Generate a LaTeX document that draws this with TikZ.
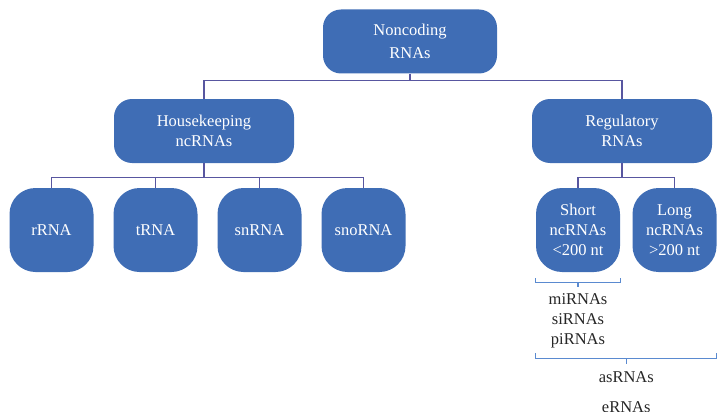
\documentclass[tikz,border=0pt]{standalone}
\usepackage{fontspec}
\setmainfont{Liberation Serif}
\usetikzlibrary{positioning,calc}
\definecolor{boxblue}{RGB}{63,109,181}
\definecolor{linepurple}{RGB}{88,86,160}
\definecolor{braceblue}{RGB}{90,138,208}

\begin{document}
\begin{tikzpicture}[x=1pt,y=-1pt,% one unit = one pixel of the reference, y pointing down
        rna/.style={fill=boxblue,text=white,align=center,inner sep=0pt,
                font=\fontsize{16.5}{20}\selectfont},%
        wide/.style={rna,minimum width=180pt,minimum height=64pt,rounded corners=18pt},%
        leaf/.style={rna,minimum width=84pt,minimum height=84pt,rounded corners=26pt},%
        link/.style={draw=linepurple,line width=1.2pt},%
        bracket/.style={draw=braceblue,line width=1.2pt},%
        listtext/.style={align=center,text=black!85,font=\fontsize{16.5}{20}\selectfont}]
\useasboundingbox (0,0) rectangle (728,412);

\node[wide,minimum width=174pt,font=\fontsize{16.5}{23}\selectfont] (ncrna) at (410,41.5) {Noncoding\\RNAs};
\node[wide] (house) at (204,131) {Housekeeping\\ncRNAs};
\node[wide] (reg) at (622,131) {Regulatory\\RNAs};

\draw[link] (ncrna.south) -- ++(0,7) coordinate (topsplit);
\draw[link] (topsplit) -| (house.north);
\draw[link] (topsplit) -| (reg.north);

\foreach[count=\i] \name in {rRNA,tRNA,snRNA,snoRNA}{ %\i is the counter \name the label
\node[leaf] (leaf-\i) at ({51.5+104*(\i-1)},230) {\name};
}
\draw[link] (house.south) -- ++(0,14) coordinate (housesplit);
\foreach \i in {1,...,4}{
\draw[link] (housesplit) -| (leaf-\i.north);
}

\node[leaf] (short) at (578,230) {Short\\ncRNAs\\<200 nt};
\node[leaf] (long) at (674.5,230) {Long\\ncRNAs\\>200 nt};
\draw[link] (reg.south) -- ++(0,14) coordinate (regsplit);
\draw[link] (regsplit) -| (short.north);
\draw[link] (regsplit) -| (long.north);

% bracket under the short ones only
\draw[bracket] ([yshift=-6pt]short.south west) -- ([yshift=-10pt]short.south west)
        -- ([yshift=-10pt]short.south east) -- ([yshift=-6pt]short.south east);
\draw[bracket] ([yshift=-10pt]short.south) -- ([yshift=-15pt]short.south) coordinate (shorttip);
\node[listtext,below=3pt of shorttip] (shortlist) {miRNAs\\siRNAs\\piRNAs};

% bracket under both
\draw[bracket] ([yshift=-81pt]short.south west) -- ([yshift=-86pt]short.south west)
        -- ([yshift=-86pt]long.south east) -- ([yshift=-81pt]long.south east);
\coordinate (bothmid) at ($([yshift=-86pt]short.south west)!0.5!([yshift=-86pt]long.south east)$);
\draw[bracket] (bothmid) -- ++(0,6) coordinate (bothtip);
\node[listtext,font=\fontsize{16.5}{30}\selectfont,below=4pt of bothtip] (bothlist) {asRNAs\\eRNAs};
\end{tikzpicture}
\end{document}
